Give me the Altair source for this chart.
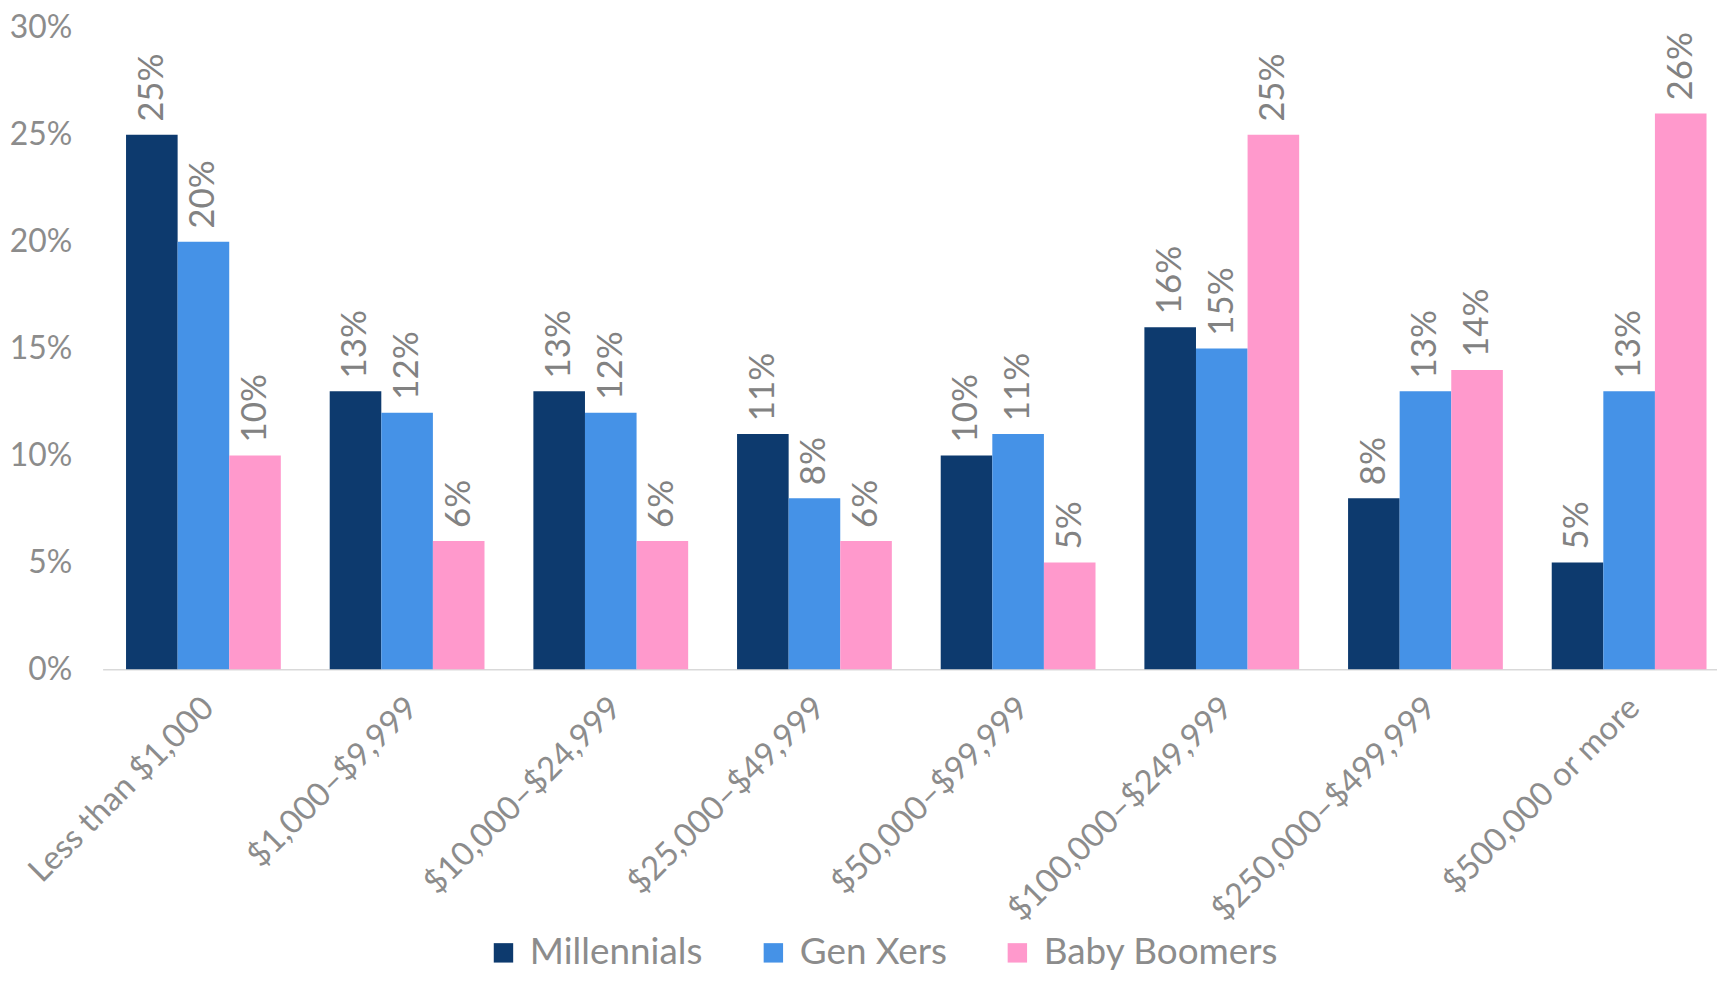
import altair as alt
import pandas as pd

categories = ["Less than $1,000", "$1,000\u2013$9,999", "$10,000\u2013$24,999", "$25,000\u2013$49,999",
              "$50,000\u2013$99,999", "$100,000\u2013$249,999", "$250,000\u2013$499,999", "$500,000 or more"]
series = ["Millennials", "Gen Xers", "Baby Boomers"]
millennials = [0.25, 0.13, 0.13, 0.11, 0.10, 0.16, 0.08, 0.05]
gen_xers = [0.20, 0.12, 0.12, 0.08, 0.11, 0.15, 0.13, 0.13]
baby_boomers = [0.10, 0.06, 0.06, 0.06, 0.05, 0.25, 0.14, 0.26]
colors = ["#0d3a6e", "#4592e7", "#ff99cc"]
y_ticks = [0, 0.05, 0.10, 0.15, 0.20, 0.25, 0.30]

rows = []
for name, vals in zip(series, [millennials, gen_xers, baby_boomers]):
    for c, v in zip(categories, vals):
        rows.append({"cat": c, "series": name, "value": v})
df = pd.DataFrame(rows)

FONT = "Lato"
GRAY = "#8c8c8c"

base = alt.Chart(df).encode(
    x=alt.X("cat:N", sort=categories, title=None,
            scale=alt.Scale(paddingInner=0.24, paddingOuter=0.115, range=[0, 1634]),
            axis=alt.Axis(labelAngle=-45, labelFont=FONT, labelFontSize=33, labelColor=GRAY,
                          labelPadding=22, labelOffset=-6, ticks=False, tickSize=0,
                          domainColor="#d9d9d9", domainWidth=1.5, labelLimit=400)),
    xOffset=alt.XOffset("series:N", sort=series, scale=alt.Scale(paddingInner=0, paddingOuter=0)),
    y=alt.Y("value:Q", title=None, scale=alt.Scale(domain=[0, 0.30], nice=False),
            axis=alt.Axis(values=y_ticks, format=".0%", grid=False, domain=False, ticks=False,
                          tickSize=0, labelPadding=31, labelFont=FONT, labelFontSize=32,
                          labelColor=GRAY)),
)

bars = base.mark_bar().encode(
    color=alt.Color("series:N", sort=series,
                    scale=alt.Scale(domain=series, range=colors),
                    legend=alt.Legend(title=None, orient="none", direction="horizontal",
                                      legendX=384, legendY=910, symbolType="square",
                                      symbolSize=380, symbolStrokeWidth=0, labelFont=FONT,
                                      labelFontSize=37, labelColor=GRAY, labelOffset=8,
                                      columnPadding=52, labelLimit=400))
)

labels = base.mark_text(angle=270, align="left", baseline="middle", dx=13,
                        font=FONT, fontSize=35, color="#828282").encode(
    text=alt.Text("value:Q", format=".0%")
)

chart = (bars + labels).properties(
    width=1621, height=644,
    autosize=alt.AutoSizeParams(type="none"),
    padding={"left": 95, "top": 18, "right": 0, "bottom": 305},
).configure_view(stroke=None)

chart.save("out.html", embed_options={"renderer": "svg", "actions": False})
